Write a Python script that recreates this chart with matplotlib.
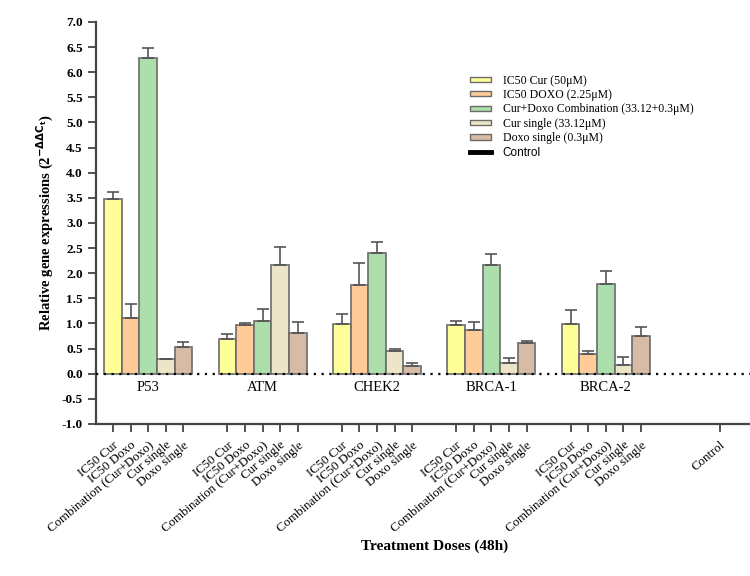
import numpy as np
import matplotlib
matplotlib.use('Agg')
import matplotlib.pyplot as plt
from matplotlib.patches import Patch
from matplotlib.lines import Line2D

genes = ['P53', 'ATM', 'CHEK2', 'BRCA-1', 'BRCA-2']
treatments = ['IC50 Cur', 'IC50 Doxo', 'Combination (Cur+Doxo)', 'Cur single', 'Doxo single']
legend_labels = ['IC50 Cur (50μM)', 'IC50 DOXO (2.25μM)', 'Cur+Doxo Combination (33.12+0.3μM)',
                 'Cur single (33.12μM)', 'Doxo single (0.3μM)']
colors = ['#FFFF99', '#FFCC99', '#ADDFAD', '#EDE5C8', '#D8BBA5']

# mean values, one list per treatment, in gene order
ic50_cur = [3.48, 0.69, 0.99, 0.96, 0.99]
ic50_doxo = [1.10, 0.97, 1.77, 0.87, 0.39]
combo = [6.28, 1.05, 2.41, 2.16, 1.78]
cur_single = [0.29, 2.16, 0.45, 0.22, 0.18]
doxo_single = [0.54, 0.80, 0.16, 0.61, 0.75]

# upper error bars
err_cur = [0.14, 0.10, 0.20, 0.08, 0.28]
err_doxo = [0.28, 0.03, 0.44, 0.15, 0.07]
err_combo = [0.21, 0.24, 0.22, 0.22, 0.27]
err_cur_single = [0.01, 0.37, 0.05, 0.09, 0.15]
err_doxo_single = [0.10, 0.23, 0.05, 0.05, 0.18]

means = [ic50_cur, ic50_doxo, combo, cur_single, doxo_single]
errs = [err_cur, err_doxo, err_combo, err_cur_single, err_doxo_single]

plt.rcParams['font.family'] = ['Liberation Serif', 'DejaVu Serif']

fig = plt.figure(figsize=(7.5, 5.76), dpi=100)
ax = fig.add_axes([0.128, 0.264, 0.872, 0.698])

step = 6.5
tick_pos = []
tick_lab = []
for i in range(len(treatments)):
    x = np.arange(len(genes)) * step + i
    ax.bar(x, means[i], width=1.0, color=colors[i], edgecolor='#6b6b6b', linewidth=1.2,
           yerr=[np.zeros(len(genes)), errs[i]], error_kw=dict(ecolor='#555555', elinewidth=1.2,
                                                            capsize=4, capthick=1.2), zorder=2)
for g, gene in enumerate(genes):
    for i, t in enumerate(treatments):
        tick_pos.append(g * step + i)
        tick_lab.append(t)
    ax.text(g * step + 2, -0.28, gene, ha='center', va='center', fontsize=10.5)

control_x = (len(genes) - 1) * step + 4 + 4.5
tick_pos.append(control_x)
tick_lab.append('Control')

ax.axhline(0, color='black', linestyle=(0, (1, 2.5)), linewidth=1.6, zorder=3)

ax.set_xticks(tick_pos)
ax.set_xticklabels(tick_lab, rotation=40, ha='right', rotation_mode='anchor', fontsize=9.3)
ax.set_xlim(-0.97, 36.2)
ax.set_ylim(-1.0, 7.0)
ax.set_yticks(np.arange(-1.0, 7.01, 0.5))
ax.set_yticklabels(['%.1f' % v for v in np.arange(-1.0, 7.01, 0.5)], fontweight='bold', fontsize=9.5)

for s in ['top', 'right']:
    ax.spines[s].set_visible(False)
for s in ['left', 'bottom']:
    ax.spines[s].set_color('#444444')
    ax.spines[s].set_linewidth(1.6)
ax.tick_params(axis='both', color='#444444', width=1.3, length=6)
ax.tick_params(axis='x', pad=5)

ax.set_ylabel(r'Relative gene expressions (2$^{\mathbf{-\Delta\Delta C_t}}$)', fontweight='bold', fontsize=10.5)
fig.text(0.58, 0.045, 'Treatment Doses (48h)', ha='center', fontweight='bold', fontsize=11)

handles = [Patch(facecolor=c, edgecolor='#6b6b6b', linewidth=1.0) for c in colors]
handles.append(Line2D([0], [0], color='black', linewidth=3.5))
leg = ax.legend(handles, legend_labels + ['Control'], loc='upper left', bbox_to_anchor=(0.555, 0.895),
                frameon=False, fontsize=8.5, handlelength=1.8, handleheight=0.3, labelspacing=0.2,
                handletextpad=1.0)
leg.get_texts()[-1].set_family('Liberation Sans')

fig.savefig('out.png', dpi=100)
